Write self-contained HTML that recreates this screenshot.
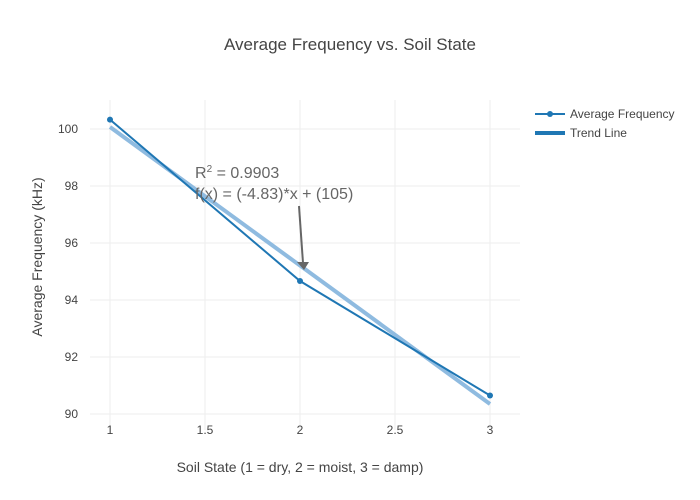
<!DOCTYPE html>
<html><head><meta charset="utf-8"><style>
body{margin:0;background:#fff;}
svg{display:block;font-family:"Liberation Sans",sans-serif;}
</style></head><body>
<svg width="700" height="500" xmlns="http://www.w3.org/2000/svg">
<rect width="700" height="500" fill="#fff"/>
<g stroke="#eee" stroke-width="1">
<line x1="110" y1="100" x2="110" y2="430"/>
<line x1="205" y1="100" x2="205" y2="430"/>
<line x1="300" y1="100" x2="300" y2="430"/>
<line x1="395" y1="100" x2="395" y2="430"/>
<line x1="490" y1="100" x2="490" y2="430"/>
<line x1="90" y1="129" x2="520" y2="129"/>
<line x1="90" y1="186" x2="520" y2="186"/>
<line x1="90" y1="243" x2="520" y2="243"/>
<line x1="90" y1="300" x2="520" y2="300"/>
<line x1="90" y1="357" x2="520" y2="357"/>
<line x1="90" y1="414" x2="520" y2="414"/>
</g>
<text x="350" y="50" text-anchor="middle" font-size="17" fill="#444">Average Frequency vs. Soil State</text>
<g font-size="12" fill="#444" text-anchor="end">
<text x="78" y="133">100</text><text x="78" y="190">98</text><text x="78" y="247">96</text>
<text x="78" y="304">94</text><text x="78" y="361">92</text><text x="78" y="418">90</text>
</g>
<g font-size="12" fill="#444" text-anchor="middle">
<text x="110" y="434">1</text><text x="205" y="434">1.5</text><text x="300" y="434">2</text>
<text x="395" y="434">2.5</text><text x="490" y="434">3</text>
</g>
<text x="300" y="472" text-anchor="middle" font-size="14" fill="#444">Soil State (1 = dry, 2 = moist, 3 = damp)</text>
<text transform="translate(42,257) rotate(-90)" text-anchor="middle" font-size="14" fill="#444">Average Frequency (kHz)</text>
<polyline points="110,127 490,404" stroke="#8fbbe0" stroke-width="4" fill="none"/>
<polyline points="110,119.6 300,281 490,395.5" stroke="#1f77b4" stroke-width="2" fill="none"/>
<g fill="#1f77b4"><circle cx="110" cy="119.6" r="3"/><circle cx="300" cy="281" r="3"/><circle cx="490" cy="395.5" r="3"/></g>
<text x="195" y="178" font-size="16" fill="#666">R<tspan font-size="10" dy="-6">2</tspan><tspan dy="6"> = 0.9903</tspan></text>
<text x="195" y="199" font-size="16" fill="#666">f(x) = (-4.83)*x + (105)</text>
<line x1="299" y1="206" x2="303" y2="263" stroke="#666" stroke-width="2"/>
<polygon points="297,262 309,262 304,270" fill="#666"/>
<line x1="535" y1="114" x2="565" y2="114" stroke="#1f77b4" stroke-width="2"/>
<circle cx="550" cy="114" r="3" fill="#1f77b4"/>
<text x="570" y="118" font-size="12" fill="#444">Average Frequency</text>
<line x1="535" y1="133" x2="565" y2="133" stroke="#1f77b4" stroke-width="4"/>
<text x="570" y="137" font-size="12" fill="#444">Trend Line</text>
</svg>
</body></html>
